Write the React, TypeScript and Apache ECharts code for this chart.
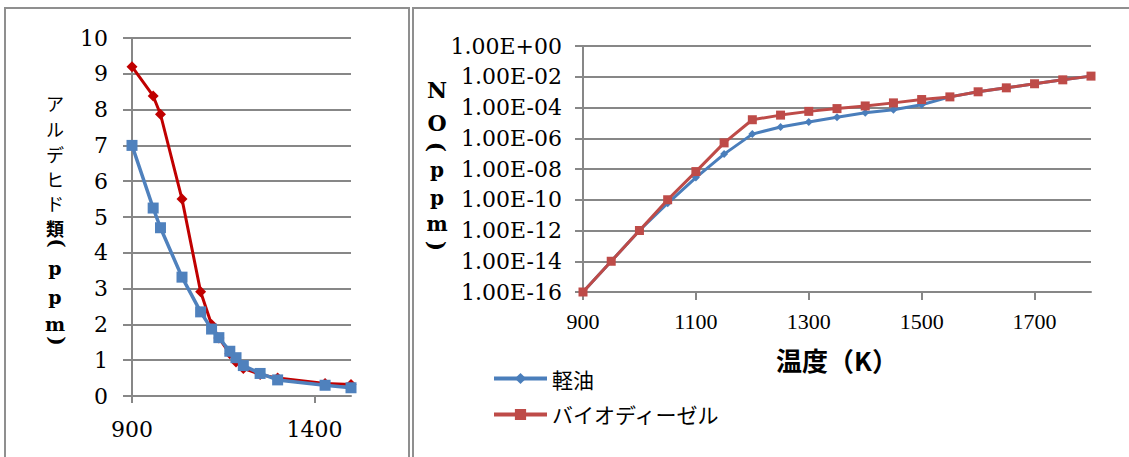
import React, { useEffect, useRef } from "react";
import * as echarts from "echarts";

// ---- Left chart: aldehydes (ppm) vs temperature ----
const aldTemps = [900, 958, 978, 1037, 1088, 1118, 1138, 1168, 1185, 1205, 1251, 1299, 1429, 1500];
const aldDiesel = [7.0, 5.25, 4.7, 3.32, 2.35, 1.87, 1.63, 1.25, 1.07, 0.85, 0.63, 0.45, 0.3, 0.23];
const aldBio = [9.2, 8.38, 7.87, 5.5, 2.91, 2.0, 1.62, 1.18, 0.95, 0.77, 0.6, 0.5, 0.35, 0.32];

// ---- Right chart: NO (ppm) vs temperature, log scale ----
const noTemps = [900, 950, 1000, 1050, 1100, 1150, 1200, 1250, 1300, 1350, 1400, 1450, 1500, 1550, 1600, 1650, 1700, 1750, 1800];
const noDiesel = [1e-16, 1e-14, 1e-12, 5.9e-11, 2.75e-9, 9.3e-8, 1.86e-6, 5.4e-6, 1.15e-5, 2.3e-5, 4.5e-5, 7.2e-5, 1.5e-4, 4.9e-4, 1.05e-3, 1.9e-3, 3.5e-3, 6.3e-3, 1.1e-2];
const noBio = [1e-16, 1e-14, 1e-12, 1e-10, 6.8e-9, 5e-7, 1.6e-5, 3.2e-5, 5.6e-5, 8.5e-5, 1.26e-4, 2e-4, 3.3e-4, 4.9e-4, 1.05e-3, 1.9e-3, 3.5e-3, 6.3e-3, 1.1e-2];

const leftXTicks = [900, 1400];
const rightXTicks = [900, 1100, 1300, 1500, 1700];
const rightYTicks = [1e-16, 1e-14, 1e-12, 1e-10, 1e-8, 1e-6, 1e-4, 1e-2, 1];

const seriesNames = ["軽油", "バイオディーゼル"];
const leftTitleChars = ["ア", "ル", "デ", "ヒ", "ド", "類", "(", "p", "p", "m", ")"];
const rightTitleChars = ["N", "O", "(", "p", "p", "m", ")"];
const xAxisTitle = "温度（K）";

const GRID = "#878787";
const SERIF = "'Liberation Serif', 'DejaVu Serif', serif";
const WSERIF = "'DejaVu Serif', 'Liberation Serif', serif";
const CJK = "'Noto Sans CJK JP', sans-serif";

function toPairs(xs: number[], ys: number[]) {
  return xs.map((x, i) => [x, ys[i]]);
}

function logLabel(v: number) {
  const e = Math.round(Math.log10(v));
  return "1.00E" + (e >= 0 ? "+" : "-") + String(Math.abs(e)).padStart(2, "0");
}

export default function App() {
  const ref = useRef<HTMLDivElement>(null);
  useEffect(() => {
    if (!ref.current) return;
    const chart = echarts.init(ref.current, undefined, { renderer: "svg" });

    const leftYs = [103, 129, 154, 179, 203, 228, 243, 268, 297, 324, 341];
    const rightYs = [90, 123, 147, 170, 198, 224, 246];

    const graphics: any[] = [
      { type: "rect", shape: { x: 5, y: 8, width: 404, height: 470 }, style: { fill: "none", stroke: "#8f8f8f", lineWidth: 2 } },
      { type: "rect", shape: { x: 413, y: 8, width: 740, height: 470 }, style: { fill: "none", stroke: "#8f8f8f", lineWidth: 2 } },
    ];
    leftTitleChars.forEach((c, i) => {
      const isKana = i < 5;
      const isParen = c === "(" || c === ")";
      const isLatin = c === "p" || c === "m";
      let font = "bold 18px " + CJK;
      if (isKana) font = "normal 18px " + CJK;
      if (isLatin) font = "bold 19px " + WSERIF;
      if (isParen) font = "bold 20px " + WSERIF;
      graphics.push({
        type: "group",
        x: isParen ? 57 : 55,
        y: leftYs[i],
        rotation: isParen ? -Math.PI / 2 : 0,
        children: [
          {
            type: "text",
            x: 0,
            y: 0,
            style: { text: c, fill: "#000", font, align: "center", verticalAlign: "middle" },
          },
        ],
      });
    });
    rightTitleChars.forEach((c, i) => {
      const isParen = c === "(" || c === ")";
      graphics.push({
        type: "group",
        x: 437,
        y: rightYs[i],
        rotation: isParen ? -Math.PI / 2 : 0,
        children: [
          {
            type: "text",
            x: 0,
            y: 0,
            style: {
              text: c,
              fill: "#000",
              font: "bold " + (i < 2 ? "22px " : isParen ? "22px " : "20px ") + WSERIF,
              align: "center",
              verticalAlign: "middle",
            },
          },
        ],
      });
    });

    const axisLineStyle = { color: GRID, width: 2 };

    chart.setOption({
      animation: false,
      backgroundColor: "#fff",
      graphic: graphics,
      grid: [
        { left: 132, top: 38, width: 219, height: 358 },
        { left: 583, top: 46, width: 508, height: 246 },
      ],
      legend: {
        data: seriesNames,
        orient: "vertical",
        left: 492,
        top: 368,
        padding: 0,
        itemWidth: 53,
        itemHeight: 14,
        itemGap: 15,
        lineStyle: { width: 4 },
        textStyle: { fontSize: 21, color: "#000", fontFamily: CJK },
      },
      xAxis: [
        {
          gridIndex: 0,
          type: "value",
          min: 900,
          max: 1500,
          interval: 500,
          splitLine: { show: false },
          axisLine: { lineStyle: axisLineStyle },
          axisTick: { show: true, length: 7, lineStyle: axisLineStyle, customValues: leftXTicks },
          axisLabel: {
            customValues: leftXTicks,
            margin: 22,
            fontSize: 22,
            fontFamily: WSERIF,
            color: "#000",
            formatter: (v: number) => String(v),
          },
        },
        {
          gridIndex: 1,
          type: "value",
          min: 900,
          max: 1800,
          interval: 200,
          splitLine: { show: false },
          axisLine: { lineStyle: axisLineStyle },
          axisTick: { show: true, length: 8, lineStyle: axisLineStyle, customValues: rightXTicks },
          axisLabel: {
            customValues: rightXTicks,
            margin: 18,
            fontSize: 22,
            fontFamily: SERIF,
            color: "#000",
            formatter: (v: number) => String(v),
          },
          name: xAxisTitle,
          nameLocation: "middle",
          nameGap: 54,
          nameTextStyle: { fontSize: 26, fontWeight: "bold", color: "#000", fontFamily: CJK },
        },
      ],
      yAxis: [
        {
          gridIndex: 0,
          type: "value",
          min: 0,
          max: 10,
          interval: 1,
          axisLine: { show: true, lineStyle: axisLineStyle },
          axisTick: { show: true, length: 9, lineStyle: axisLineStyle },
          splitLine: { show: true, lineStyle: axisLineStyle },
          axisLabel: { margin: 24, fontSize: 22, fontFamily: WSERIF, color: "#000" },
        },
        {
          gridIndex: 1,
          type: "log",
          logBase: 10,
          min: 1e-16,
          max: 1,
          axisLine: { show: true, lineStyle: axisLineStyle },
          axisTick: { show: true, length: 8, lineStyle: axisLineStyle, customValues: rightYTicks },
          splitLine: { show: true, lineStyle: axisLineStyle },
          minorTick: { show: false },
          axisLabel: {
            customValues: rightYTicks,
            margin: 21,
            fontSize: 22,
            fontFamily: WSERIF,
            color: "#000",
            formatter: logLabel,
          },
        },
      ],
      series: [
        {
          name: seriesNames[0],
          type: "line",
          xAxisIndex: 1,
          yAxisIndex: 1,
          data: toPairs(noTemps, noDiesel),
          symbol: "diamond",
          symbolSize: 8,
          lineStyle: { color: "#4A7EBB", width: 3 },
          itemStyle: { color: "#4A7EBB" },
          z: 2,
        },
        {
          name: seriesNames[1],
          type: "line",
          xAxisIndex: 1,
          yAxisIndex: 1,
          data: toPairs(noTemps, noBio),
          symbol: "rect",
          symbolSize: 9,
          lineStyle: { color: "#BE4B48", width: 3 },
          itemStyle: { color: "#BE4B48" },
          z: 3,
        },
        {
          name: "アルデヒド_バイオディーゼル",
          type: "line",
          xAxisIndex: 0,
          yAxisIndex: 0,
          data: toPairs(aldTemps, aldBio),
          symbol: "diamond",
          symbolSize: 11,
          lineStyle: { color: "#C00000", width: 3 },
          itemStyle: { color: "#C00000" },
          z: 2,
        },
        {
          name: "アルデヒド_軽油",
          type: "line",
          xAxisIndex: 0,
          yAxisIndex: 0,
          data: toPairs(aldTemps, aldDiesel),
          symbol: "rect",
          symbolSize: 11,
          lineStyle: { color: "#4F81BD", width: 3.5 },
          itemStyle: { color: "#4F81BD" },
          z: 3,
        },
      ],
    });
    return () => chart.dispose();
  }, []);
  return (
    <div
      ref={ref}
      style={{ position: "absolute", left: 0, top: 0, width: 1129, height: 457, background: "#fff" }}
    />
  );
}
